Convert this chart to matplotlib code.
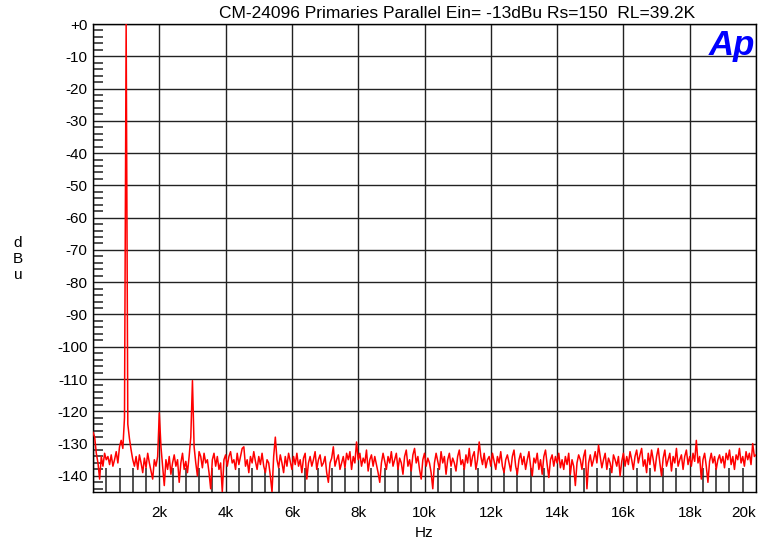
import matplotlib.pyplot as plt
import numpy as np

plt.rcParams['font.family'] = ['Liberation Sans', 'DejaVu Sans']

TITLE = 'CM-24096 Primaries Parallel Ein= -13dBu Rs=150  RL=39.2K'

# FFT bins, 50 Hz apart, 0 .. 20 kHz
bin_hz = 50
level_dbu = [
    # 0 - 950 Hz
    -126.5, -128, -133, -136, -141, -134, -137, -133, -135, -134,
    -136.5, -133.5, -137, -135, -132.5, -136, -131, -129, -131.5, -122,
    # 1 k - 1.95 k
    0.0, -124, -128.5, -132, -135, -137, -134, -138, -133.5, -136,
    -139, -134.5, -137.5, -133, -136, -138.5, -141, -135, -137, -134,
    # 2 k
    -120.5, -131, -137, -143, -135, -138, -134, -139.5, -136, -133.5,
    -137, -135, -142, -136, -133, -138, -135.5, -139, -134, -128,
    # 3 k
    -110.5, -131, -136, -140, -132.5, -134, -137.5, -133, -136, -135,
    -139, -144, -135, -133, -137, -134, -138, -136, -145, -135,
    # 4 k
    -133.5, -137, -134, -132.5, -136, -135, -138, -133, -136.5, -134,
    -131.5, -131, -137, -135, -139, -134, -136, -132.5, -135.5, -138,
    # 5 k
    -134, -136.5, -133, -137, -139, -135, -136, -140, -145, -134,
    -128, -135, -137.5, -133.5, -136, -139, -134, -137, -133, -135.5,
    # 6 k
    -138, -134, -136.5, -133, -137, -135, -139, -134.5, -133, -141,
    -136, -134, -137, -135, -132.5, -138, -135, -133.5, -137, -136,
    # 7 k
    -134, -139, -142, -136, -134.5, -131, -137, -135, -133.5, -138,
    -136, -134, -137.5, -133, -135, -132.5, -138, -134, -136, -129.5,
    # 8 k
    -135, -133, -137, -134.5, -136, -132, -138.5, -135, -133.5, -137,
    -134, -136.5, -139, -142, -136, -133, -135.5, -138, -134, -136,
    # 9 k
    -132.5, -137, -135, -133, -138, -134.5, -136, -139.5, -134, -132,
    -137, -135, -138.5, -133.5, -131.5, -136, -134, -138, -141, -135,
    # 10 k
    -133, -137, -134.5, -136, -139, -144, -136, -133, -135.5, -138,
    -132.5, -136, -134, -139.5, -135, -133, -137, -134.5, -136, -138.5,
    # 11 k
    -134, -132, -136.5, -135, -138, -133.5, -136, -131.5, -137, -134,
    -132.5, -138, -135, -129.5, -134, -136.5, -133, -137.5, -135, -134,
    # 12 k
    -137, -133, -135.5, -138, -134, -136, -132.5, -137, -139, -135,
    -133.5, -136, -138.5, -134, -132, -137, -139.5, -135, -133, -136.5,
    # 13 k
    -134, -138, -135, -132.5, -137, -140, -134.5, -136, -133, -138,
    -135, -139.5, -134, -132, -136.5, -140.5, -135, -133.5, -137, -134,
    # 14 k
    -136, -133, -137.5, -135, -138, -134, -136.5, -133, -139.5, -135,
    -137, -143, -136, -133.5, -135, -138, -134, -132, -144, -136,
    # 15 k
    -133.5, -137, -135, -132.5, -136, -130.5, -134, -137.5, -135, -133,
    -138, -134.5, -136, -139, -133.5, -135, -137, -134, -140, -135.5,
    # 16 k
    -133, -137, -134, -136.5, -132.5, -135, -138, -134, -132, -136,
    -133.5, -131.5, -137, -135, -139, -133, -136.5, -132, -135, -138.5,
    # 17 k
    -134, -131.5, -136, -140, -134.5, -132, -137, -135, -133, -138.5,
    -134, -136, -131.5, -137, -135, -133.5, -138, -134, -132, -136.5,
    # 18 k
    -134, -137, -133, -135.5, -129, -136, -134, -141, -135, -133,
    -137, -142, -135.5, -133, -136, -134, -138, -135, -133.5, -136,
    # 19 k
    -134, -137.5, -133, -135, -132, -136.5, -134, -138, -133.5, -135,
    -131.5, -136, -134, -137, -132.5, -135, -133, -136.5, -130, -134,
    # 20 k
    -133.5,
]
freq_hz = np.arange(len(level_dbu)) * bin_hz

x_major = [0, 2000, 4000, 6000, 8000, 10000, 12000, 14000, 16000, 18000, 20000]
x_labels = ['', '2k', '4k', '6k', '8k', '10k', '12k', '14k', '16k', '18k', '20k']
y_major = [0, -10, -20, -30, -40, -50, -60, -70, -80, -90, -100, -110, -120, -130, -140]
y_labels = ['+0'] + [str(v) for v in y_major[1:]]

fig = plt.figure(figsize=(7.72, 5.44), dpi=100)
ax = fig.add_axes([93 / 772, 52 / 544, 663 / 772, 468 / 544])

ax.plot(freq_hz, level_dbu, color='#ff0000', lw=1.1, zorder=3)

ax.set_xlim(0, 20000)
ax.set_ylim(-145, 0)

ax.set_xticks(x_major)
ax.set_xticklabels(x_labels)
ax.set_yticks(y_major)
ax.set_yticklabels(y_labels)
ax.set_xticks(np.arange(0, 20001, 400), minor=True)
ax.set_yticks(np.arange(-144, 0, 2), minor=True)
ax.tick_params(which='major', length=0, labelsize=11, colors='black')
ax.tick_params(axis='x', which='major', pad=10)
ax.tick_params(axis='y', which='major', pad=4)
ax.tick_params(axis='x', which='minor', direction='in', length=17, width=1.2, color='#333333')
ax.tick_params(axis='y', which='minor', direction='in', length=7, width=1.2, color='#333333')
# last frequency label sits flush with the right edge
ax.get_xticklabels()[-1].set_horizontalalignment('right')

ax.grid(True, which='major', color='#222222', lw=1.0)
ax.set_axisbelow(True)
for s in ax.spines.values():
    s.set_color('black')
    s.set_linewidth(1.0)

fig.text(457 / 772, 1 - 13 / 544, TITLE, ha='center', va='center', fontsize=12.5)
fig.text(424 / 772, 1 - 533 / 544, 'Hz', ha='center', va='center', fontsize=11)
fig.text(18 / 772, 1 - 259 / 544, 'd\nB\nu', ha='center', va='center', fontsize=11, linespacing=1.2)
ax.text(0.998, 0.99, 'Ap', transform=ax.transAxes, ha='right', va='top',
        fontsize=25, fontweight='bold', fontstyle='italic', color='#0000ff', zorder=4)

fig.savefig('out.png', dpi=100)
